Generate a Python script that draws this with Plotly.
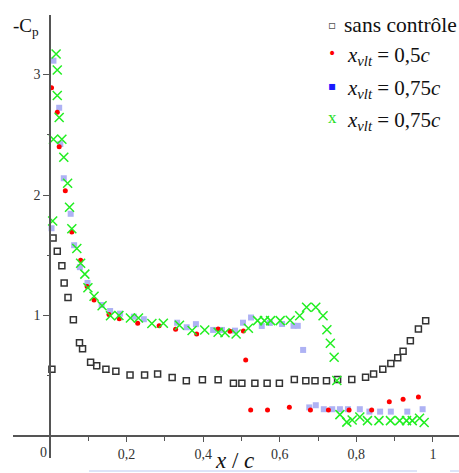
import plotly.graph_objects as go

# ---------------- data ----------------
x_sans = [0.005, 0.008, 0.019, 0.031, 0.037, 0.047, 0.061, 0.077, 0.085, 0.106, 0.122, 0.146,
          0.172, 0.209, 0.247, 0.281, 0.319, 0.356, 0.398, 0.439, 0.479, 0.501, 0.535, 0.567,
          0.599, 0.638, 0.668, 0.692, 0.722, 0.751, 0.788, 0.824, 0.845, 0.869, 0.890, 0.908,
          0.922, 0.941, 0.962, 0.981]
cp_sans = [0.553, 1.643, 1.533, 1.413, 1.270, 1.149, 0.965, 0.774, 0.724, 0.612, 0.583, 0.553,
           0.537, 0.505, 0.505, 0.515, 0.485, 0.459, 0.467, 0.467, 0.437, 0.437, 0.437, 0.437,
           0.437, 0.469, 0.459, 0.459, 0.459, 0.469, 0.469, 0.488, 0.515, 0.553, 0.602, 0.650,
           0.704, 0.791, 0.888, 0.956]

x_05 = [0.004, 0.019, 0.024, 0.040, 0.057, 0.080, 0.097, 0.115, 0.154, 0.181, 0.229, 0.285,
        0.328, 0.383, 0.439, 0.470, 0.505, 0.511, 0.524, 0.568, 0.625, 0.680, 0.727, 0.781,
        0.840, 0.886, 0.922, 0.962]
cp_05 = [2.890, 2.687, 2.400, 2.036, 1.693, 1.459, 1.241, 1.129, 1.008, 0.973, 0.935, 0.914,
         0.885, 0.846, 0.888, 0.870, 0.871, 0.631, 0.216, 0.216, 0.238, 0.216, 0.216, 0.216,
         0.216, 0.284, 0.305, 0.324]

x_075b = [0.009, 0.024, 0.027, 0.036, 0.054, 0.004, 0.063, 0.078, 0.098, 0.135, 0.157, 0.183,
          0.219, 0.245, 0.332, 0.357, 0.381, 0.426, 0.449, 0.483, 0.504, 0.525, 0.553, 0.574,
          0.606, 0.636, 0.647, 0.661, 0.677, 0.694, 0.715, 0.737, 0.757, 0.778, 0.809, 0.834,
          0.862, 0.890, 0.933, 0.973]
cp_075b = [3.115, 2.724, 2.423, 2.139, 1.844, 1.724, 1.583, 1.401, 1.270, 1.087, 1.037, 1.015,
           0.990, 0.969, 0.940, 0.902, 0.928, 0.880, 0.880, 0.874, 0.940, 0.983, 0.913, 0.938,
           0.929, 0.914, 0.914, 0.714, 0.237, 0.255, 0.222, 0.222, 0.222, 0.222, 0.222, 0.202,
           0.202, 0.202, 0.202, 0.222]

x_075g = [0.016, 0.019, 0.019, 0.024, 0.009, 0.031, 0.036, 0.046, 0.051, 0.007, 0.057, 0.070,
          0.080, 0.091, 0.099, 0.115, 0.136, 0.158, 0.180, 0.210, 0.231, 0.266, 0.296, 0.338,
          0.371, 0.404, 0.439, 0.457, 0.486, 0.518, 0.542, 0.560, 0.576, 0.601, 0.627, 0.652,
          0.670, 0.694, 0.713, 0.723, 0.732, 0.742, 0.749, 0.757, 0.775, 0.789, 0.809, 0.829,
          0.859, 0.889, 0.913, 0.931, 0.946, 0.965, 0.977]
cp_075g = [3.170, 3.037, 2.826, 2.643, 2.463, 2.463, 2.313, 2.098, 1.899, 1.784, 1.720, 1.556,
           1.433, 1.343, 1.230, 1.160, 1.080, 0.997, 0.999, 0.979, 0.979, 0.933, 0.935, 0.919,
           0.876, 0.880, 0.861, 0.857, 0.846, 0.894, 0.957, 0.957, 0.957, 0.957, 0.960, 0.997,
           1.068, 1.068, 0.997, 0.882, 0.769, 0.653, 0.461, 0.177, 0.115, 0.133, 0.158, 0.127,
           0.127, 0.127, 0.127, 0.127, 0.127, 0.147, 0.112]

x_major = [0.2, 0.4, 0.6, 0.8, 1.0]
x_major_labels = ["0,2", "0,4", "0,6", "0,8", "1"]
y_major = [1, 2, 3]
y_major_labels = ["1", "2", "3"]

legend_labels = ["sans contrôle",
                 "<i>x</i><sub><i>vlt</i></sub> = 0,5<i>c</i>",
                 "<i>x</i><sub><i>vlt</i></sub> = 0,75<i>c</i>",
                 "<i>x</i><sub><i>vlt</i></sub> = 0,75<i>c</i>"]

# ---------------- layout helpers ----------------
W, H = 459, 473
ML, MR, MT, MB = 13, 0, 15, 15
PW, PH = W - ML - MR, H - MT - MB


def px(xp):
    return (xp - ML) / PW


def py(yp):
    return (H - MB - yp) / PH


SERIF = "Liberation Serif"
AXC = "#555555"

fig = go.Figure()
fig.add_trace(go.Scatter(x=x_sans, y=cp_sans, mode="markers",
                         marker=dict(symbol="square-open", size=6, color="#333333",
                                     line=dict(width=1.5, color="#333333"))))
fig.add_trace(go.Scatter(x=x_075b, y=cp_075b, mode="markers",
                         marker=dict(symbol="square", size=6, color="#aeb2f4",
                                     line=dict(width=0))))
fig.add_trace(go.Scatter(x=x_05, y=cp_05, mode="markers",
                         marker=dict(symbol="circle", size=5, color="#ff0000",
                                     line=dict(width=0))))
fig.add_trace(go.Scatter(x=x_075g, y=cp_075g, mode="markers",
                         marker=dict(symbol="x-thin-open", size=9, color="#22ee22",
                                     line=dict(width=1.5, color="#22ee22"))))

fig.update_layout(
    width=W, height=H, showlegend=False,
    margin=dict(l=ML, r=MR, t=MT, b=MB, pad=0),
    paper_bgcolor="white", plot_bgcolor="white",
    font=dict(family=SERIF, color="#333333", size=14),
    xaxis=dict(range=[-0.0966, 1.068], anchor="free", position=py(436),
               showgrid=False, zeroline=False, showline=True, linecolor=AXC, linewidth=1.5,
               tickmode="array", tickvals=x_major, ticktext=x_major_labels,
               ticks="outside", ticklen=5, tickwidth=1.3, tickcolor=AXC,
               tickfont=dict(family=SERIF, size=14, color="#333333"),
               minor=dict(tickvals=[0.1, 0.3, 0.5, 0.7, 0.9], ticks="outside", ticklen=4,
                          tickwidth=1, tickcolor=AXC)),
    yaxis=dict(range=[-0.183, 3.494], anchor="free", position=px(50),
               showgrid=False, zeroline=False, showline=True, linecolor=AXC, linewidth=1.5,
               tickmode="array", tickvals=y_major, ticktext=y_major_labels,
               ticks="outside", ticklen=6, tickwidth=1.3, tickcolor=AXC,
               tickfont=dict(family=SERIF, size=14, color="#333333"),
               minor=dict(tickvals=[0.5, 1.5, 2.5], ticks="outside", ticklen=2,
                          tickwidth=1, tickcolor=AXC)),
)

ann = []
# x tick label "0" (offset left of the axis)
ann.append(dict(x=px(43), y=py(452), xref="paper", yref="paper", text="0", showarrow=False,
                xanchor="center", yanchor="middle",
                font=dict(family=SERIF, size=14, color="#333333")))
# y axis title
ann.append(dict(x=px(11), y=py(27), xref="paper", yref="paper", text="-C<sub>p</sub>",
                showarrow=False, xanchor="left", yanchor="middle",
                font=dict(family=SERIF, size=19, color="#111111")))
# x axis title
ann.append(dict(x=px(234), y=py(461), xref="paper", yref="paper",
                text="<i>x</i> / <i>c</i>", showarrow=False, xanchor="center",
                yanchor="middle", font=dict(family=SERIF, size=23, color="#111111")))

# legend (symbols + texts)
rows_y = [25, 53, 86, 118]
sym = [("▫", "#555555", 12), ("•", "#ff0000", 14), ("▪", "#1a1aff", 12), ("x", "#22dd22", 17)]
for i, (s, c, fs) in enumerate(sym):
    ann.append(dict(x=px(332), y=py(rows_y[i]), xref="paper", yref="paper", text=s,
                    showarrow=False, xanchor="center", yanchor="middle",
                    font=dict(family="DejaVu Sans" if i < 3 else SERIF, size=fs, color=c)))
for i, t in enumerate(legend_labels):
    ann.append(dict(x=px(342 if i == 0 else 345), y=py(rows_y[i] + (0 if i == 0 else 3)),
                    xref="paper", yref="paper", text=t, showarrow=False,
                    xanchor="left", yanchor="middle",
                    font=dict(family=SERIF, size=21.5 if i == 0 else 21, color="#111111")))
fig.update_layout(annotations=ann)

# faint light underline artifacts at the bottom
fig.add_shape(type="line", xref="paper", yref="paper", x0=px(89), x1=px(417),
              y0=py(471), y1=py(471), line=dict(color="#dde4f8", width=2), layer="below")
fig.add_shape(type="line", xref="paper", yref="paper", x0=px(450), x1=px(459),
              y0=py(471), y1=py(471), line=dict(color="#dde4f8", width=2), layer="below")

fig.write_html("out.html", config={"displayModeBar": False},
               post_script="document.body.style.margin='0px';document.body.style.overflow='hidden';")
